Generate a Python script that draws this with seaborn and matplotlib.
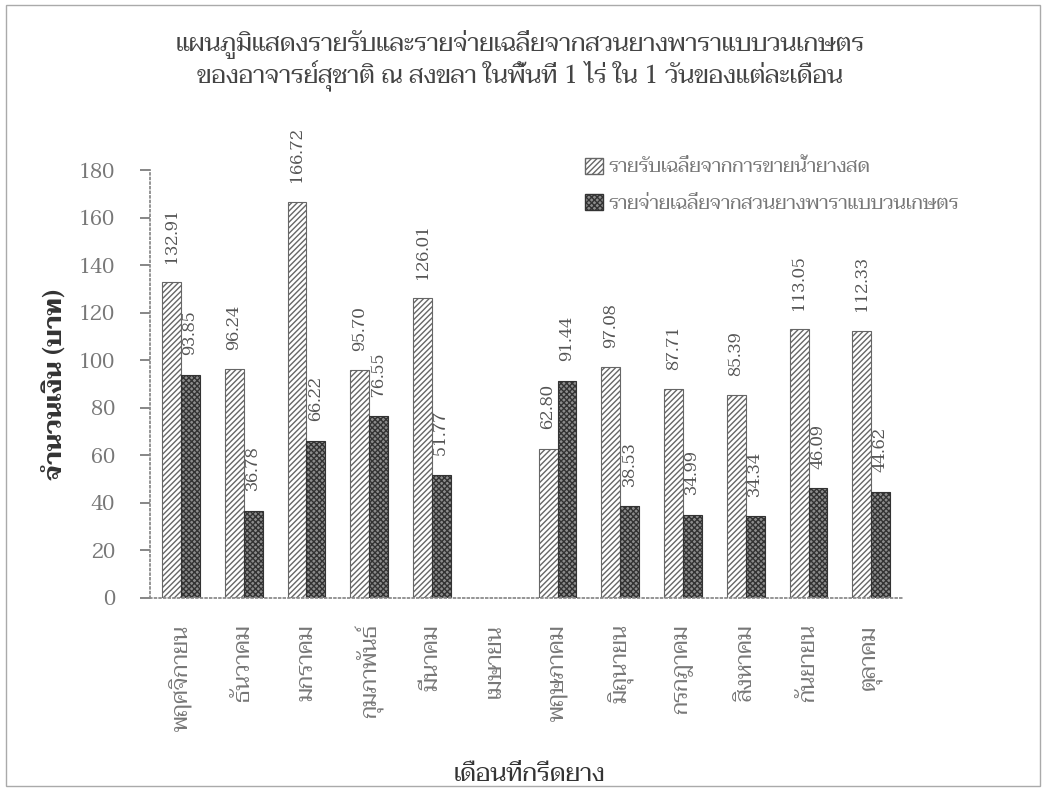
import numpy as np
import pandas as pd
import matplotlib
matplotlib.use("Agg")
import matplotlib.pyplot as plt
import seaborn as sns
from matplotlib.patches import Rectangle, Patch

# ---------------- data ----------------
months = ["พฤศจิกายน", "ธันวาคม", "มกราคม", "กุมภาพันธ์", "มีนาคม", "เมษายน",
          "พฤษภาคม", "มิถุนายน", "กรกฎาคม", "สิงหาคม", "กันยายน", "ตุลาคม"]
income = [132.91, 96.24, 166.72, 95.70, 126.01, np.nan,
          62.80, 97.08, 87.71, 85.39, 113.05, 112.33]
expense = [93.85, 36.78, 66.22, 76.55, 51.77, np.nan,
           91.44, 38.53, 34.99, 34.34, 46.09, 44.62]
series_names = ["รายรับเฉลี่ยจากการขายน้ำยางสด", "รายจ่ายเฉลี่ยจากสวนยางพาราแบบวนเกษตร"]
yticks = [0, 20, 40, 60, 80, 100, 120, 140, 160, 180]

title = ("แผนภูมิแสดงรายรับและรายจ่ายเฉลี่ยจากสวนยางพาราแบบวนเกษตร\n"
         "ของอาจารย์สุชาติ ณ สงขลา ในพื้นที่ 1 ไร่ ใน 1 วันของแต่ละเดือน")
ylabel = "จำนวนเงิน (บาท)"
xlabel = "เดือนที่กรีดยาง"

sns.set_theme(style="white")
plt.rcParams["font.family"] = ["Taviraj", "Sarabun", "DejaVu Sans"]

df = pd.DataFrame({
    "month": months * 2,
    "value": income + expense,
    "series": [series_names[0]] * 12 + [series_names[1]] * 12,
})

fig = plt.figure(figsize=(10.46, 7.91), dpi=100)
ax = fig.add_axes([0.143, 0.244, 0.72, 0.541])

in_style = dict(facecolor="white", edgecolor="#666666", hatch="//////")
ex_style = dict(facecolor="#8c8c8c", edgecolor="#333333", hatch="xxxxxx")

sns.barplot(data=df, x="month", y="value", hue="series", order=months,
            hue_order=series_names, width=0.6, gap=0, ax=ax, legend=False,
            palette=[in_style["facecolor"], ex_style["facecolor"]])

for cont, st in zip(ax.containers, [in_style, ex_style]):
    for bar in cont:
        bar.set_hatch(st["hatch"])
        bar.set_edgecolor(st["edgecolor"])
        bar.set_linewidth(0.8)
    labels = ["" if np.isnan(b.get_height()) else f"{b.get_height():.2f}" for b in cont]
    ax.bar_label(cont, labels=labels, rotation=90, padding=14, fontsize=12.5,
                 color="#555555")

ax.set_ylim(0, 180)
ax.set_yticks(yticks)
ax.set_xlim(-0.5, 11.5)
ax.tick_params(axis="y", labelsize=15, colors="#777777", length=7, direction="out",
               left=True, pad=18)
ax.tick_params(axis="x", labelsize=16, colors="#777777", length=0, pad=19)
for lbl in ax.get_xticklabels():
    lbl.set_rotation(90)
for side in ["top", "right"]:
    ax.spines[side].set_visible(False)
for side in ["left", "bottom"]:
    ax.spines[side].set_color("#888888")
    ax.spines[side].set_linestyle(":")

ax.set_xlabel(xlabel, fontsize=18, color="#333333")
ax.xaxis.set_label_coords(0.505, -0.385)
ax.set_ylabel(ylabel, fontsize=18, fontweight="bold", color="#333333")
ax.yaxis.set_label_coords(-0.11, 0.5)

fig.suptitle(title, x=0.497, y=0.963, fontsize=18, color="#444444", linespacing=1.12)

handles = [Patch(**in_style), Patch(**ex_style)]
leg = ax.legend(handles, series_names, loc="upper left", bbox_to_anchor=(0.555, 1.07),
                frameon=False, fontsize=14, handlelength=0.9, handleheight=0.9,
                handletextpad=0.3, labelspacing=0.9)
for t in leg.get_texts():
    t.set_color("#777777")

fig.patches.append(Rectangle((0.006, 0.006), 0.988, 0.988, transform=fig.transFigure,
                             fill=False, edgecolor="#aaaaaa", linewidth=1))

fig.savefig("out.png", dpi=100)
